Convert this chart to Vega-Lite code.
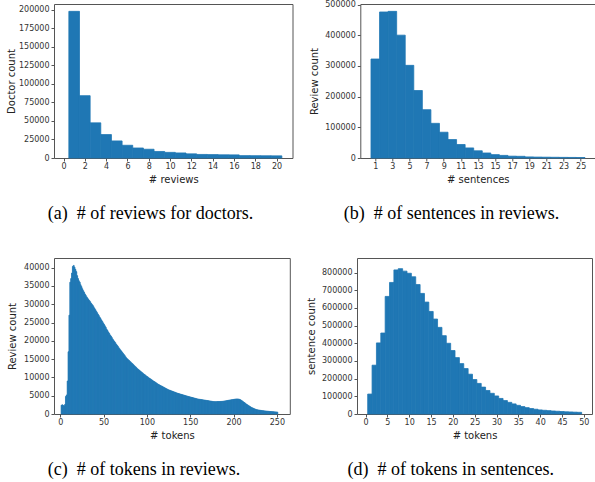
{
  "$schema": "https://vega.github.io/schema/vega-lite/v6.json",
  "padding": {"left": 6, "top": 0, "right": 0, "bottom": 0},
  "autosize": {"type": "pad"},
  "background": "white",
  "config": {
    "view": {"stroke": "#555", "strokeWidth": 1},
    "axis": {"grid": false, "domain": false, "tickColor": "#555", "tickSize": 3, "labelFont": "DejaVu Sans", "labelFontSize": 8, "labelColor": "#333", "titleFont": "DejaVu Sans", "titleFontSize": 10, "titleFontWeight": "normal", "titleColor": "#222", "labelPadding": 1, "labelFlush": false, "labelOverlap": false},
    "axisY": {"titlePadding": 5, "labelPadding": 2},
    "axisX": {"titlePadding": 4},
    "title": {"font": "Liberation Serif", "fontSize": 18, "fontWeight": "normal", "color": "#000", "orient": "bottom", "anchor": "middle", "frame": "group", "offset": 21},
    "bar": {"color": "#1f77b4", "stroke": "#1f77b4", "strokeWidth": 0.8}
  },
  "datasets": {
    "a": [
      {"lo":0.5,"hi":1.5,"v":197700},{"lo":1.5,"hi":2.5,"v":84000},{"lo":2.5,"hi":3.5,"v":47400},{"lo":3.5,"hi":4.5,"v":31600},{"lo":4.5,"hi":5.5,"v":23000},
      {"lo":5.5,"hi":6.5,"v":17150},{"lo":6.5,"hi":7.5,"v":13500},{"lo":7.5,"hi":8.5,"v":11800},{"lo":8.5,"hi":9.5,"v":8800},{"lo":9.5,"hi":10.5,"v":7600},
      {"lo":10.5,"hi":11.5,"v":6800},{"lo":11.5,"hi":12.5,"v":5600},{"lo":12.5,"hi":13.5,"v":4800},{"lo":13.5,"hi":14.5,"v":4600},{"lo":14.5,"hi":15.5,"v":4300},
      {"lo":15.5,"hi":16.5,"v":4200},{"lo":16.5,"hi":17.5,"v":3200},{"lo":17.5,"hi":18.5,"v":3100},{"lo":18.5,"hi":19.5,"v":3000},{"lo":19.5,"hi":20.5,"v":2900}
    ],
    "b": [
      {"lo":0.5,"hi":1.5,"v":322700},{"lo":1.5,"hi":2.5,"v":476000},{"lo":2.5,"hi":3.5,"v":478000},{"lo":3.5,"hi":4.5,"v":400400},{"lo":4.5,"hi":5.5,"v":302000},
      {"lo":5.5,"hi":6.5,"v":220000},{"lo":6.5,"hi":7.5,"v":157500},{"lo":7.5,"hi":8.5,"v":113000},{"lo":8.5,"hi":9.5,"v":84000},{"lo":9.5,"hi":10.5,"v":60200},
      {"lo":10.5,"hi":11.5,"v":44000},{"lo":11.5,"hi":12.5,"v":32800},{"lo":12.5,"hi":13.5,"v":23500},{"lo":13.5,"hi":14.5,"v":16400},{"lo":14.5,"hi":15.5,"v":11000},
      {"lo":15.5,"hi":16.5,"v":8500},{"lo":16.5,"hi":17.5,"v":6000},{"lo":17.5,"hi":18.5,"v":5500},{"lo":18.5,"hi":19.5,"v":3500},{"lo":19.5,"hi":20.5,"v":3000},
      {"lo":20.5,"hi":21.5,"v":2600},{"lo":21.5,"hi":22.5,"v":2300},{"lo":22.5,"hi":23.5,"v":2000},{"lo":23.5,"hi":24.5,"v":1800},{"lo":24.5,"hi":25.5,"v":1600}
    ],
    "c": [
      {"lo":1,"hi":2,"v":2400},{"lo":2,"hi":3,"v":2500},{"lo":3,"hi":4,"v":2300},{"lo":4,"hi":5,"v":2200},{"lo":5,"hi":6,"v":2600},
      {"lo":6,"hi":7,"v":4800},{"lo":7,"hi":8,"v":5200},{"lo":8,"hi":9,"v":9000},{"lo":9,"hi":10,"v":17000},{"lo":10,"hi":11,"v":27000},
      {"lo":11,"hi":12,"v":36000},{"lo":12,"hi":13,"v":37000},{"lo":13,"hi":14,"v":38500},{"lo":14,"hi":15,"v":40300},{"lo":15,"hi":16,"v":40600},
      {"lo":16,"hi":17,"v":40100},{"lo":17,"hi":18,"v":39500},{"lo":18,"hi":19,"v":38900},{"lo":19,"hi":20,"v":37800},{"lo":20,"hi":21,"v":37000},
      {"lo":21,"hi":22,"v":36400},{"lo":22,"hi":23,"v":36000},{"lo":23,"hi":24,"v":35300},{"lo":24,"hi":25,"v":34800},{"lo":25,"hi":26,"v":34200},
      {"lo":26,"hi":27,"v":33700},{"lo":27,"hi":28,"v":33300},{"lo":28,"hi":29,"v":32800},{"lo":29,"hi":30,"v":32400},{"lo":30,"hi":31,"v":32000},
      {"lo":31,"hi":32,"v":31700},{"lo":32,"hi":33,"v":31300},{"lo":33,"hi":34,"v":31000},{"lo":34,"hi":35,"v":30700},{"lo":35,"hi":36,"v":30300},
      {"lo":36,"hi":37,"v":30000},{"lo":37,"hi":38,"v":29700},{"lo":38,"hi":39,"v":29300},{"lo":39,"hi":40,"v":28900},{"lo":40,"hi":41,"v":28500},
      {"lo":41,"hi":42,"v":28100},{"lo":42,"hi":43,"v":27700},{"lo":43,"hi":44,"v":27300},{"lo":44,"hi":45,"v":26900},{"lo":45,"hi":46,"v":26500},
      {"lo":46,"hi":47,"v":26100},{"lo":47,"hi":48,"v":25700},{"lo":48,"hi":49,"v":25300},{"lo":49,"hi":50,"v":24900},{"lo":50,"hi":51,"v":24500},
      {"lo":51,"hi":52,"v":24100},{"lo":52,"hi":53,"v":23700},{"lo":53,"hi":54,"v":23200},{"lo":54,"hi":55,"v":22800},{"lo":55,"hi":56,"v":22400},
      {"lo":56,"hi":57,"v":22000},{"lo":57,"hi":58,"v":21600},{"lo":58,"hi":59,"v":21300},{"lo":59,"hi":60,"v":20900},{"lo":60,"hi":61,"v":20500},
      {"lo":61,"hi":62,"v":20150},{"lo":62,"hi":63,"v":19800},{"lo":63,"hi":64,"v":19500},{"lo":64,"hi":65,"v":19100},{"lo":65,"hi":66,"v":18800},
      {"lo":66,"hi":67,"v":18500},{"lo":67,"hi":68,"v":18100},{"lo":68,"hi":69,"v":17800},{"lo":69,"hi":70,"v":17500},{"lo":70,"hi":71,"v":17200},
      {"lo":71,"hi":72,"v":16850},{"lo":72,"hi":73,"v":16550},{"lo":73,"hi":74,"v":16250},{"lo":74,"hi":75,"v":15950},{"lo":75,"hi":76,"v":15600},
      {"lo":76,"hi":77,"v":15300},{"lo":77,"hi":78,"v":15050},{"lo":78,"hi":79,"v":14800},{"lo":79,"hi":80,"v":14600},{"lo":80,"hi":81,"v":14350},
      {"lo":81,"hi":82,"v":14150},{"lo":82,"hi":83,"v":13900},{"lo":83,"hi":84,"v":13700},{"lo":84,"hi":85,"v":13450},{"lo":85,"hi":86,"v":13200},
      {"lo":86,"hi":87,"v":12950},{"lo":87,"hi":88,"v":12750},{"lo":88,"hi":89,"v":12500},{"lo":89,"hi":90,"v":12300},{"lo":90,"hi":91,"v":12100},
      {"lo":91,"hi":92,"v":11900},{"lo":92,"hi":93,"v":11700},{"lo":93,"hi":94,"v":11500},{"lo":94,"hi":95,"v":11300},{"lo":95,"hi":96,"v":11100},
      {"lo":96,"hi":97,"v":10900},{"lo":97,"hi":98,"v":10750},{"lo":98,"hi":99,"v":10550},{"lo":99,"hi":100,"v":10350},{"lo":100,"hi":101,"v":10200},
      {"lo":101,"hi":102,"v":10000},{"lo":102,"hi":103,"v":9830},{"lo":103,"hi":104,"v":9670},{"lo":104,"hi":105,"v":9500},{"lo":105,"hi":106,"v":9340},
      {"lo":106,"hi":107,"v":9170},{"lo":107,"hi":108,"v":9000},{"lo":108,"hi":109,"v":8850},{"lo":109,"hi":110,"v":8700},{"lo":110,"hi":111,"v":8530},
      {"lo":111,"hi":112,"v":8370},{"lo":112,"hi":113,"v":8200},{"lo":113,"hi":114,"v":8070},{"lo":114,"hi":115,"v":7940},{"lo":115,"hi":116,"v":7800},
      {"lo":116,"hi":117,"v":7680},{"lo":117,"hi":118,"v":7550},{"lo":118,"hi":119,"v":7420},{"lo":119,"hi":120,"v":7290},{"lo":120,"hi":121,"v":7160},
      {"lo":121,"hi":122,"v":7030},{"lo":122,"hi":123,"v":6900},{"lo":123,"hi":124,"v":6780},{"lo":124,"hi":125,"v":6650},{"lo":125,"hi":126,"v":6560},
      {"lo":126,"hi":127,"v":6470},{"lo":127,"hi":128,"v":6380},{"lo":128,"hi":129,"v":6290},{"lo":129,"hi":130,"v":6200},{"lo":130,"hi":131,"v":6110},
      {"lo":131,"hi":132,"v":6020},{"lo":132,"hi":133,"v":5930},{"lo":133,"hi":134,"v":5840},{"lo":134,"hi":135,"v":5750},{"lo":135,"hi":136,"v":5650},
      {"lo":136,"hi":137,"v":5580},{"lo":137,"hi":138,"v":5510},{"lo":138,"hi":139,"v":5440},{"lo":139,"hi":140,"v":5370},{"lo":140,"hi":141,"v":5300},
      {"lo":141,"hi":142,"v":5230},{"lo":142,"hi":143,"v":5160},{"lo":143,"hi":144,"v":5090},{"lo":144,"hi":145,"v":5020},{"lo":145,"hi":146,"v":4950},
      {"lo":146,"hi":147,"v":4880},{"lo":147,"hi":148,"v":4800},{"lo":148,"hi":149,"v":4740},{"lo":149,"hi":150,"v":4680},{"lo":150,"hi":151,"v":4610},
      {"lo":151,"hi":152,"v":4550},{"lo":152,"hi":153,"v":4490},{"lo":153,"hi":154,"v":4420},{"lo":154,"hi":155,"v":4360},{"lo":155,"hi":156,"v":4300},
      {"lo":156,"hi":157,"v":4230},{"lo":157,"hi":158,"v":4170},{"lo":158,"hi":159,"v":4100},{"lo":159,"hi":160,"v":4060},{"lo":160,"hi":161,"v":4020},
      {"lo":161,"hi":162,"v":3990},{"lo":162,"hi":163,"v":3950},{"lo":163,"hi":164,"v":3910},{"lo":164,"hi":165,"v":3870},{"lo":165,"hi":166,"v":3830},
      {"lo":166,"hi":167,"v":3800},{"lo":167,"hi":168,"v":3760},{"lo":168,"hi":169,"v":3720},{"lo":169,"hi":170,"v":3690},{"lo":170,"hi":171,"v":3650},
      {"lo":171,"hi":172,"v":3600},{"lo":172,"hi":173,"v":3560},{"lo":173,"hi":174,"v":3520},{"lo":174,"hi":175,"v":3480},{"lo":175,"hi":176,"v":3440},
      {"lo":176,"hi":177,"v":3400},{"lo":177,"hi":178,"v":3380},{"lo":178,"hi":179,"v":3370},{"lo":179,"hi":180,"v":3370},{"lo":180,"hi":181,"v":3380},
      {"lo":181,"hi":182,"v":3390},{"lo":182,"hi":183,"v":3400},{"lo":183,"hi":184,"v":3410},{"lo":184,"hi":185,"v":3420},{"lo":185,"hi":186,"v":3430},
      {"lo":186,"hi":187,"v":3440},{"lo":187,"hi":188,"v":3460},{"lo":188,"hi":189,"v":3500},{"lo":189,"hi":190,"v":3540},{"lo":190,"hi":191,"v":3580},
      {"lo":191,"hi":192,"v":3620},{"lo":192,"hi":193,"v":3670},{"lo":193,"hi":194,"v":3710},{"lo":194,"hi":195,"v":3760},{"lo":195,"hi":196,"v":3800},
      {"lo":196,"hi":197,"v":3840},{"lo":197,"hi":198,"v":3880},{"lo":198,"hi":199,"v":3920},{"lo":199,"hi":200,"v":3960},{"lo":200,"hi":201,"v":4000},
      {"lo":201,"hi":202,"v":4040},{"lo":202,"hi":203,"v":4080},{"lo":203,"hi":204,"v":4100},{"lo":204,"hi":205,"v":4100},{"lo":205,"hi":206,"v":4080},
      {"lo":206,"hi":207,"v":4030},{"lo":207,"hi":208,"v":3940},{"lo":208,"hi":209,"v":3800},{"lo":209,"hi":210,"v":3640},{"lo":210,"hi":211,"v":3470},
      {"lo":211,"hi":212,"v":3290},{"lo":212,"hi":213,"v":3110},{"lo":213,"hi":214,"v":2930},{"lo":214,"hi":215,"v":2740},{"lo":215,"hi":216,"v":2580},
      {"lo":216,"hi":217,"v":2420},{"lo":217,"hi":218,"v":2260},{"lo":218,"hi":219,"v":2110},{"lo":219,"hi":220,"v":1950},{"lo":220,"hi":221,"v":1800},
      {"lo":221,"hi":222,"v":1690},{"lo":222,"hi":223,"v":1580},{"lo":223,"hi":224,"v":1480},{"lo":224,"hi":225,"v":1380},{"lo":225,"hi":226,"v":1280},
      {"lo":226,"hi":227,"v":1180},{"lo":227,"hi":228,"v":1140},{"lo":228,"hi":229,"v":1100},{"lo":229,"hi":230,"v":1060},{"lo":230,"hi":231,"v":1020},
      {"lo":231,"hi":232,"v":980},{"lo":232,"hi":233,"v":940},{"lo":233,"hi":234,"v":900},{"lo":234,"hi":235,"v":880},{"lo":235,"hi":236,"v":850},
      {"lo":236,"hi":237,"v":830},{"lo":237,"hi":238,"v":800},{"lo":238,"hi":239,"v":780},{"lo":239,"hi":240,"v":750},{"lo":240,"hi":241,"v":730},
      {"lo":241,"hi":242,"v":700},{"lo":242,"hi":243,"v":680},{"lo":243,"hi":244,"v":660},{"lo":244,"hi":245,"v":640},{"lo":245,"hi":246,"v":620},
      {"lo":246,"hi":247,"v":600},{"lo":247,"hi":248,"v":580},{"lo":248,"hi":249,"v":560},{"lo":249,"hi":250,"v":540},{"lo":250,"hi":251,"v":520}
    ],
    "d": [
      {"lo":0.5,"hi":1.5,"v":112700},{"lo":1.5,"hi":2.5,"v":276000},{"lo":2.5,"hi":3.5,"v":402000},{"lo":3.5,"hi":4.5,"v":458000},{"lo":4.5,"hi":5.5,"v":665000},
      {"lo":5.5,"hi":6.5,"v":744000},{"lo":6.5,"hi":7.5,"v":815000},{"lo":7.5,"hi":8.5,"v":822000},{"lo":8.5,"hi":9.5,"v":808000},{"lo":9.5,"hi":10.5,"v":796000},
      {"lo":10.5,"hi":11.5,"v":776000},{"lo":11.5,"hi":12.5,"v":732000},{"lo":12.5,"hi":13.5,"v":682000},{"lo":13.5,"hi":14.5,"v":633000},{"lo":14.5,"hi":15.5,"v":580000},
      {"lo":15.5,"hi":16.5,"v":537000},{"lo":16.5,"hi":17.5,"v":490000},{"lo":17.5,"hi":18.5,"v":443000},{"lo":18.5,"hi":19.5,"v":400000},{"lo":19.5,"hi":20.5,"v":359000},
      {"lo":20.5,"hi":21.5,"v":319000},{"lo":21.5,"hi":22.5,"v":285000},{"lo":22.5,"hi":23.5,"v":257000},{"lo":23.5,"hi":24.5,"v":225000},{"lo":24.5,"hi":25.5,"v":195000},
      {"lo":25.5,"hi":26.5,"v":173000},{"lo":26.5,"hi":27.5,"v":152000},{"lo":27.5,"hi":28.5,"v":133000},{"lo":28.5,"hi":29.5,"v":117000},{"lo":29.5,"hi":30.5,"v":102000},
      {"lo":30.5,"hi":31.5,"v":88000},{"lo":31.5,"hi":32.5,"v":76000},{"lo":32.5,"hi":33.5,"v":66000},{"lo":33.5,"hi":34.5,"v":57000},{"lo":34.5,"hi":35.5,"v":49000},
      {"lo":35.5,"hi":36.5,"v":42000},{"lo":36.5,"hi":37.5,"v":36000},{"lo":37.5,"hi":38.5,"v":31000},{"lo":38.5,"hi":39.5,"v":27000},{"lo":39.5,"hi":40.5,"v":23000},
      {"lo":40.5,"hi":41.5,"v":21000},{"lo":41.5,"hi":42.5,"v":19000},{"lo":42.5,"hi":43.5,"v":17000},{"lo":43.5,"hi":44.5,"v":15500},{"lo":44.5,"hi":45.5,"v":14000},
      {"lo":45.5,"hi":46.5,"v":12500},{"lo":46.5,"hi":47.5,"v":11500},{"lo":47.5,"hi":48.5,"v":10500},{"lo":48.5,"hi":49.5,"v":9500}
    ]
  },
  "spacing": 33,
  "vconcat": [
    {
      "spacing": 67.3,
      "bounds": "flush",
      "hconcat": [
        {
          "width": 238.5, "height": 154,
          "view": {"stroke": "#555", "strokeWidth": 1},
          "title": {"text": "(a)\u2002# of reviews for doctors.", "dx": -22.75},
          "data": {"name": "a"},
          "mark": {"type": "bar"},
          "encoding": {
            "x": {"field": "lo", "type": "quantitative", "scale": {"domain": [-0.894, 21.5], "nice": false, "zero": false}, "axis": {"values": [0,2,4,6,8,10,12,14,16,18,20], "title": "# reviews", "format": "d"}},
            "x2": {"field": "hi"},
            "y": {"field": "v", "type": "quantitative", "scale": {"domain": [0, 207600], "nice": false}, "axis": {"values": [0,25000,50000,75000,100000,125000,150000,175000,200000], "title": "Doctor count", "format": "d", "titlePadding": 1.5}},
            "y2": {"datum": 0}
          }
        },
        {
          "width": 235, "height": 154,
          "view": {"stroke": "#555", "strokeWidth": 1},
          "title": {"text": "(b)\u2002# of sentences in reviews.", "dx": -26.3},
          "data": {"name": "b"},
          "mark": {"type": "bar"},
          "encoding": {
            "x": {"field": "lo", "type": "quantitative", "scale": {"domain": [-0.75, 26.71], "nice": false, "zero": false}, "axis": {"values": [1,3,5,7,9,11,13,15,17,19,21,23,25], "title": "# sentences", "format": "d"}},
            "x2": {"field": "hi"},
            "y": {"field": "v", "type": "quantitative", "scale": {"domain": [0, 502000], "nice": false}, "axis": {"values": [0,100000,200000,300000,400000,500000], "title": "Review count", "format": "d"}},
            "y2": {"datum": 0}
          }
        }
      ]
    },
    {
      "spacing": 67,
      "bounds": "flush",
      "hconcat": [
        {
          "width": 235.8, "height": 156,
          "view": {"stroke": "#555", "strokeWidth": 1},
          "title": {"text": "(c)\u2002# of tokens in reviews.", "dx": -27.9},
          "data": {"name": "c"},
          "mark": {"type": "bar"},
          "encoding": {
            "x": {"field": "lo", "type": "quantitative", "scale": {"domain": [-7.25, 264.9], "nice": false, "zero": false}, "axis": {"values": [0,50,100,150,200,250], "title": "# tokens", "format": "d"}},
            "x2": {"field": "hi"},
            "y": {"field": "v", "type": "quantitative", "scale": {"domain": [0, 42630], "nice": false}, "axis": {"values": [0,5000,10000,15000,20000,25000,30000,35000,40000], "title": "Review count", "format": "d", "titlePadding": 6.5}},
            "y2": {"datum": 0}
          }
        },
        {
          "width": 235, "height": 156,
          "view": {"stroke": "#555", "strokeWidth": 1},
          "title": {"text": "(d)\u2002# of tokens in sentences.", "dx": -23.8},
          "data": {"name": "d"},
          "mark": {"type": "bar"},
          "encoding": {
            "x": {"field": "lo", "type": "quantitative", "scale": {"domain": [-1.95, 51.87], "nice": false, "zero": false}, "axis": {"values": [0,5,10,15,20,25,30,35,40,45,50], "title": "# tokens", "format": "d"}},
            "x2": {"field": "hi"},
            "y": {"field": "v", "type": "quantitative", "scale": {"domain": [0, 882300], "nice": false}, "axis": {"values": [0,100000,200000,300000,400000,500000,600000,700000,800000], "title": "sentence count", "format": "d"}},
            "y2": {"datum": 0}
          }
        }
      ]
    }
  ]
}
